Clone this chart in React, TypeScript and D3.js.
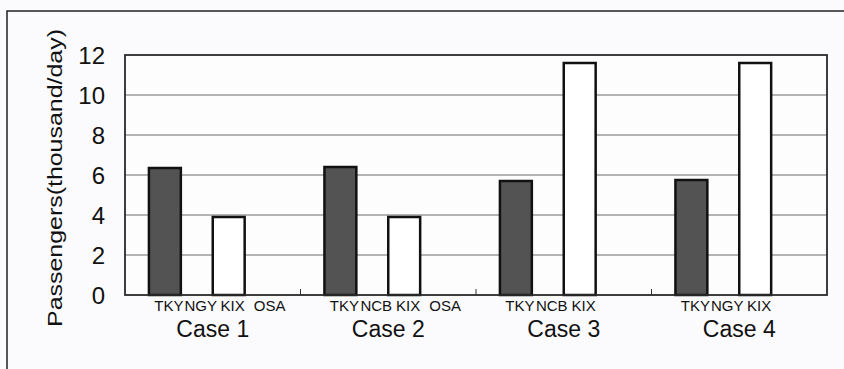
import React from "react";
import * as d3 from "d3";

const categories = ["Case 1", "Case 2", "Case 3", "Case 4"];
const slotLabels = [
  ["TKY", "NGY", "KIX", "OSA"],
  ["TKY", "NCB", "KIX", "OSA"],
  ["TKY", "NCB", "KIX"],
  ["TKY", "NGY", "KIX"],
];
const tkyValues = [6.35, 6.4, 5.7, 5.75];
const kixValues = [3.9, 3.9, 11.6, 11.6];
const yTicks = [0, 2, 4, 6, 8, 10, 12];
const slots = [0, 1, 2, 3];

const W = 844;
const H = 369;
const plot = { left: 125, right: 827, top: 55, bottom: 295 };
const FONT = "Arial, 'Liberation Sans', sans-serif";

export default function App() {
  const x = d3.scaleBand<string>().domain(categories).range([plot.left, plot.right]).padding(0);
  const bw = x.bandwidth();
  const gap = (bw * 0.75) / 5.5;
  const inner = d3.scaleBand<number>().domain(slots).range([gap, bw - gap]).padding(0);
  const y = d3.scaleLinear().domain([0, 12]).range([plot.bottom, plot.top]);

  const series = [
    { slot: 0, values: tkyValues, fill: "#535353" },
    { slot: 2, values: kixValues, fill: "#ffffff" },
  ];

  return (
    <svg
      width={W}
      height={H}
      style={{ position: "absolute", left: 0, top: 0, background: "#fbfbfd" }}
      fontFamily={FONT}
    >
      <rect x={7} y={11} width={W + 10} height={H + 10} fill="#fbfbfd" stroke="#222" strokeWidth={1.5} />
      <rect x={plot.left} y={plot.top} width={plot.right - plot.left} height={plot.bottom - plot.top} fill="#fdfdfd" />
      {yTicks.filter((t) => t > 0 && t < 12).map((t) => (
        <line key={t} x1={plot.left} x2={plot.right} y1={y(t)} y2={y(t)} stroke="#6a6a6a" strokeWidth={1} />
      ))}
      {categories.slice(1).map((c) => (
        <line key={c} x1={x(c)!} x2={x(c)!} y1={plot.bottom} y2={plot.bottom - 6} stroke="#333" strokeWidth={1} />
      ))}
      {series.map((s) =>
        s.values.map((v, i) => {
          const bx = x(categories[i])! + inner(s.slot)!;
          return (
            <rect
              key={`${s.slot}-${i}`}
              x={bx}
              y={y(v)}
              width={inner.bandwidth()}
              height={y(0) - y(v)}
              fill={s.fill}
              stroke="#111"
              strokeWidth={2.5}
            />
          );
        })
      )}
      <rect
        x={plot.left}
        y={plot.top}
        width={plot.right - plot.left}
        height={plot.bottom - plot.top}
        fill="none"
        stroke="#2a2a2a"
        strokeWidth={1.8}
      />
      {yTicks.map((t) => (
        <text key={t} x={105} y={y(t)} dy="0.36em" textAnchor="end" fontSize={24} fill="#111">
          {t}
        </text>
      ))}
      <text
        transform={`translate(62,${(plot.top + plot.bottom) / 2 + 3}) rotate(-90)`}
        textAnchor="middle"
        fontSize={21}
        textLength={298}
        lengthAdjust="spacingAndGlyphs"
        fill="#111"
      >
        Passengers(thousand/day)
      </text>
      {categories.map((c, i) =>
        slotLabels[i].map((lab, j) => (
          <text
            key={`${c}-${j}`}
            x={x(c)! + inner(j)! + inner.bandwidth() / 2 + (j === 3 ? 9 : 4)}
            y={311}
            textAnchor="middle"
            fontSize={15}
            fill="#111"
          >
            {lab}
          </text>
        ))
      )}
      {categories.map((c) => (
        <text key={c} x={x(c)! + bw / 2} y={337} textAnchor="middle" fontSize={23} fill="#111">
          {c}
        </text>
      ))}
    </svg>
  );
}
